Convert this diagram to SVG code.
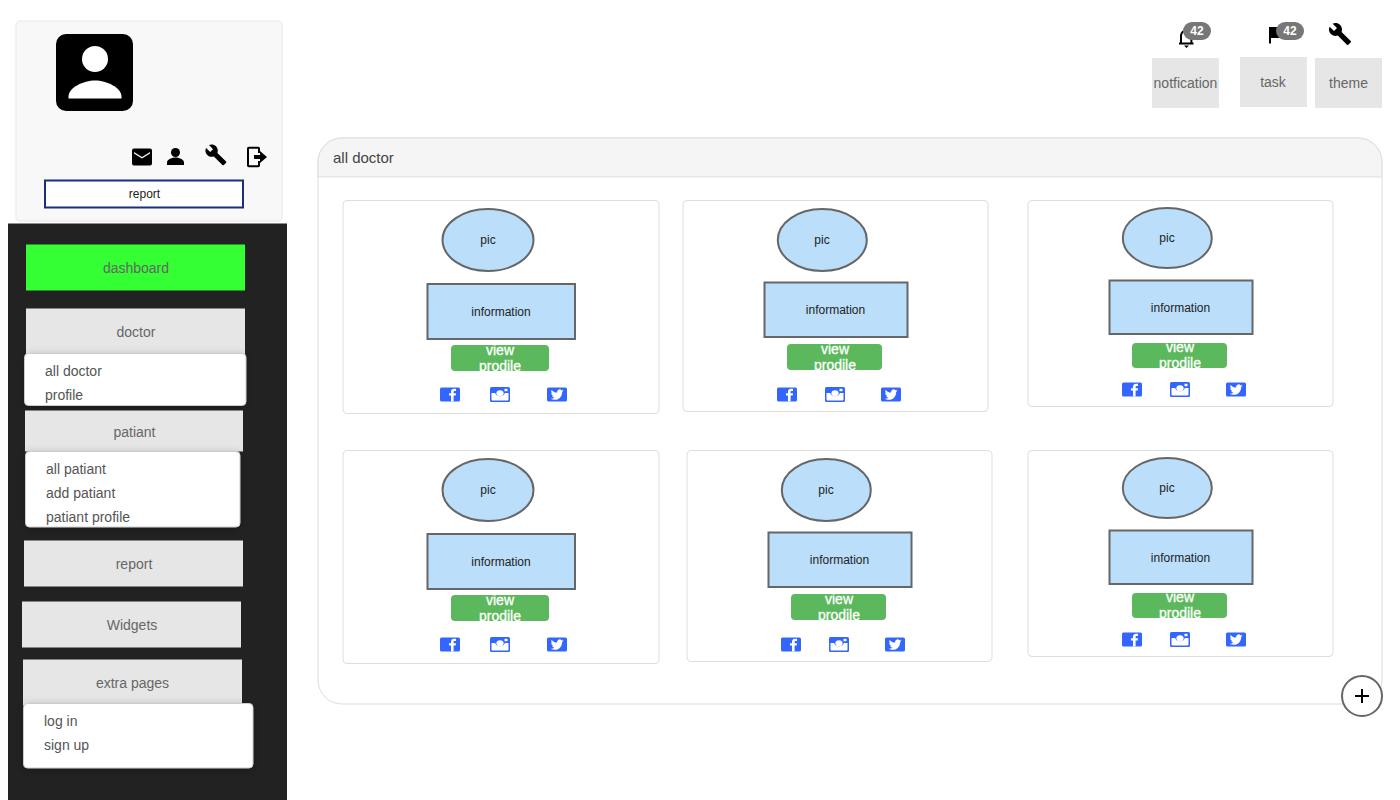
<svg xmlns="http://www.w3.org/2000/svg" width="1400" height="800" viewBox="0 0 1400 800">
<style>
text{font-family:"Liberation Sans",Arial,sans-serif}
.m{fill:#e6e6e6}
.mt{font-size:14px;fill:#666;text-anchor:middle}
.dd{fill:#fff;stroke:#ccc;stroke-width:1;filter:url(#sh)}
.dt{font-size:14px;fill:#555}
.card{fill:#fff;stroke:#ddd;stroke-width:1}
.blue{fill:#bbdefb;stroke:#666;stroke-width:2}
.lbl{font-size:12px;fill:#222;text-anchor:middle}
.btn{fill:#5cb85c}
.bt{font-size:14px;fill:#fff;stroke:#fff;stroke-width:.3;text-anchor:middle}
.pill{fill:#777}
.pt{font-size:12px;font-weight:bold;fill:#fff;text-anchor:middle}
</style>
<defs>
<filter id="sh" x="-10%" y="-20%" width="120%" height="150%"><feDropShadow dx="0" dy="2" stdDeviation="4" flood-color="#000" flood-opacity=".25"/></filter>
<path id="wrench" d="M22.7 19l-9.1-9.1c.9-2.3.4-5-1.5-6.9-2-2-5-2.4-7.4-1.3L9 6 6 9 1.6 4.7C.4 7.1.9 10.1 2.9 12.1c1.9 1.9 4.6 2.4 6.9 1.5l9.1 9.1c.4.4 1 .4 1.4 0l2.3-2.3c.5-.4.5-1.1.1-1.4z"/>
<g id="fb"><rect width="20" height="14" y=".5" rx="1.5" fill="#3366ff"/><path d="M11 14.500V8.600H9V6.300h2V4.800c0-2 1.200-3 3-3h2v2.300h-1.200c-1 0-1.200.4-1.200 1.100v1.100h2.400l-.3 2.300h-2.100v5.900z" fill="#fff"/></g>
<g id="ig"><rect width="20" height="15" rx="1.5" fill="#3366ff"/><path d="M1.500 6h3.600a5.300 5.300 0 0 0 9.800 0h3.600v6.500a1 1 0 0 1-1 1H2.500a1 1 0 0 1-1-1z" fill="#fff"/><ellipse cx="10" cy="6.300" rx="3.600" ry="3" fill="#fff"/><rect x="14.500" y="1.800" width="3" height="2.400" fill="#fff"/></g>
<g id="tw"><rect width="20" height="14" y=".5" rx="1.5" fill="#3366ff"/><path d="M16.500 3.600c-.5.2-1 .4-1.500.4.500-.3 1-.8 1.200-1.400-.5.3-1.100.5-1.700.6a2.600 2.600 0 0 0-4.400 2.400C8 5.500 6 4.400 4.600 2.900c-.7 1.200-.3 2.700.8 3.500-.4 0-.8-.1-1.200-.3 0 1.300.9 2.300 2.100 2.600-.4.1-.8.1-1.200 0 .3 1 1.300 1.800 2.400 1.800A5.300 5.300 0 0 1 3.500 11.700c4.800 2.700 11.500.4 11.700-6.800.5-.4.900-.8 1.300-1.300z" fill="#fff"/></g>
<clipPath id="c1"><rect x="451" y="345" width="98" height="26" rx="4"/></clipPath>
<clipPath id="c2"><rect x="787" y="344" width="95" height="26" rx="4"/></clipPath>
<clipPath id="c3"><rect x="1132" y="343" width="95" height="25" rx="4"/></clipPath>
<clipPath id="c4"><rect x="451" y="595" width="98" height="26" rx="4"/></clipPath>
<clipPath id="c5"><rect x="791" y="594" width="95" height="26" rx="4"/></clipPath>
<clipPath id="c6"><rect x="1132" y="593" width="95" height="25" rx="4"/></clipPath>
</defs>

<g id="connectors"/>

<g id="sidebar"><rect x="8" y="223.500" width="279" height="576.500" fill="#222"/></g>

<g id="profile">
<rect x="16" y="21" width="266" height="200" rx="4" fill="#f8f8f8" stroke="#eee" stroke-width="1.500"/>
<rect x="56" y="34" width="77" height="77" rx="10" fill="#000"/>
<circle cx="95" cy="59" r="13" fill="#fff"/>
<path d="M68.500 98.500v-2c0-9 15-16 26.500-16s26.500 7 26.500 16v2z" fill="#fff"/>
<path d="M132 150.500a2 2 0 0 1 2-2h16a2 2 0 0 1 2 2v13a2 2 0 0 1-2 2h-16a2 2 0 0 1-2-2zm2 1.500v1.500l8 5 8-5V152l-8 5z" fill="#000" fill-rule="evenodd"/>
<circle cx="175.500" cy="152.500" r="4.500" fill="#000"/>
<path d="M167 165v-2.500c0-3.500 5.500-5 8.500-5s8.500 1.500 8.500 5v2.500z" fill="#000"/>
<use href="#wrench" transform="translate(204.500 143.500) scale(.95)"/>
<path d="M259 153v-4.500a.8.800 0 0 0-.8-.8h-9.400a.8.800 0 0 0-.8.800v17a.8.800 0 0 0 .8.800h9.400a.8.800 0 0 0 .8-.8V161" fill="none" stroke="#000" stroke-width="2"/>
<path d="M254 155h6v-4l7 6-7 6v-4h-6z" fill="#000"/>
<rect x="45" y="180.500" width="198" height="27" fill="#fff" stroke="#1b2f7a" stroke-width="2"/>
<text x="144.500" y="198" font-size="12" text-anchor="middle" fill="#222">report</text>
</g>

<g id="menu-dashboard"><rect x="26" y="244.500" width="219" height="46" fill="#33ff33"/><text class="mt" x="136" y="273">dashboard</text></g>
<g id="menu-doctor"><rect class="m" x="26" y="308.500" width="219" height="46"/><text class="mt" x="136" y="337">doctor</text></g>
<g id="drop-doctor"><rect class="dd" x="24.500" y="353.500" width="221.500" height="52" rx="4"/><text class="dt" x="45" y="376">all doctor</text><text class="dt" x="45" y="400">profile</text></g>
<g id="menu-patiant"><rect class="m" x="25" y="410.500" width="218" height="41"/><text class="mt" x="134.500" y="437">patiant</text></g>
<g id="drop-patiant"><rect class="dd" x="25.500" y="451.500" width="214.500" height="75.500" rx="4"/><text class="dt" x="46" y="474">all patiant</text><text class="dt" x="46" y="498">add patiant</text><text class="dt" x="46" y="522">patiant profile</text></g>
<g id="menu-report"><rect class="m" x="24" y="540.500" width="219" height="46"/><text class="mt" x="134" y="569">report</text></g>
<g id="menu-widgets"><rect class="m" x="22" y="601.500" width="219" height="46"/><text class="mt" x="132" y="630">Widgets</text></g>
<g id="menu-extra"><rect class="m" x="23" y="659.500" width="219" height="46"/><text class="mt" x="132.500" y="688">extra pages</text></g>
<g id="drop-extra"><rect class="dd" x="23.500" y="703.500" width="229.500" height="64.500" rx="4"/><text class="dt" x="44" y="726">log in</text><text class="dt" x="44" y="750">sign up</text></g>

<g id="top-notification">
<path d="M1179 43.500h14.500M1181 43v-6.500c0-3.500 2-6 5.200-6s5.200 2.500 5.200 6V43" fill="none" stroke="#000" stroke-width="2"/>
<path d="M1184 45.500h5l-2.500 2.500z" fill="#000"/>
<rect class="pill" x="1183" y="22" width="28" height="18" rx="9"/><text class="pt" x="1197" y="35">42</text>
<rect class="m" x="1152" y="58" width="67" height="50"/><text class="mt" x="1185.500" y="88">notfication</text>
</g>
<g id="top-task">
<path d="M1269 27h2v16.500h-2zM1271 27h9v11h-9z" fill="#000"/>
<rect class="pill" x="1276" y="22" width="28" height="18" rx="9"/><text class="pt" x="1290" y="35">42</text>
<rect class="m" x="1240" y="57" width="67" height="50"/><text class="mt" x="1273" y="87">task</text>
</g>
<g id="top-theme">
<use href="#wrench" transform="translate(1328 22)"/>
<rect class="m" x="1315" y="58" width="67" height="50"/><text class="mt" x="1348.500" y="88">theme</text>
</g>

<g id="panel">
<rect x="318" y="138" width="1064" height="566" rx="24" fill="#fff" stroke="#ddd"/>
<path d="M318 177V162a24 24 0 0 1 24-24h1016a24 24 0 0 1 24 24V177z" fill="#f5f5f5" stroke="#ddd"/>
<text x="333" y="163" font-size="15" fill="#444">all doctor</text>
</g>

<g id="card-1">
<rect class="card" x="343" y="200.500" width="316" height="213" rx="4"/>
<ellipse class="blue" cx="488" cy="240" rx="45.500" ry="31"/><text class="lbl" x="488" y="244">pic</text>
<rect class="blue" x="427.500" y="284" width="147.500" height="55"/><text class="lbl" x="501" y="316">information</text>
<rect class="btn" x="451" y="345" width="98" height="26" rx="4"/>
<g clip-path="url(#c1)"><text class="bt" x="500" y="355">view</text><text class="bt" x="500" y="371">prodile</text></g>
<use href="#fb" x="440" y="387"/><use href="#ig" x="490" y="387"/><use href="#tw" x="547" y="387"/>
</g>
<g id="card-2">
<rect class="card" x="683" y="200.500" width="305" height="211" rx="4"/>
<ellipse class="blue" cx="822.300" cy="240" rx="44.500" ry="31"/><text class="lbl" x="822" y="244">pic</text>
<rect class="blue" x="764.500" y="282.500" width="143" height="54.500"/><text class="lbl" x="835.500" y="314">information</text>
<rect class="btn" x="787" y="344" width="95" height="26" rx="4"/>
<g clip-path="url(#c2)"><text class="bt" x="835" y="354">view</text><text class="bt" x="835" y="370">prodile</text></g>
<use href="#fb" x="777" y="387"/><use href="#ig" x="825" y="387"/><use href="#tw" x="881" y="387"/>
</g>
<g id="card-3">
<rect class="card" x="1028" y="200.500" width="305" height="206" rx="4"/>
<ellipse class="blue" cx="1167.300" cy="238" rx="44.500" ry="30"/><text class="lbl" x="1167" y="242">pic</text>
<rect class="blue" x="1109.500" y="280.500" width="143" height="53.500"/><text class="lbl" x="1180.500" y="312">information</text>
<rect class="btn" x="1132" y="343" width="95" height="25" rx="4"/>
<g clip-path="url(#c3)"><text class="bt" x="1180" y="352">view</text><text class="bt" x="1180" y="368">prodile</text></g>
<use href="#fb" x="1122" y="382"/><use href="#ig" x="1170" y="382"/><use href="#tw" x="1226" y="382"/>
</g>
<g id="card-4">
<rect class="card" x="343" y="450.500" width="316" height="213" rx="4"/>
<ellipse class="blue" cx="488" cy="490" rx="45.500" ry="31"/><text class="lbl" x="488" y="494">pic</text>
<rect class="blue" x="427.500" y="534" width="147.500" height="55"/><text class="lbl" x="501" y="566">information</text>
<rect class="btn" x="451" y="595" width="98" height="26" rx="4"/>
<g clip-path="url(#c4)"><text class="bt" x="500" y="605">view</text><text class="bt" x="500" y="621">prodile</text></g>
<use href="#fb" x="440" y="637"/><use href="#ig" x="490" y="637"/><use href="#tw" x="547" y="637"/>
</g>
<g id="card-5">
<rect class="card" x="687" y="450.500" width="305" height="211" rx="4"/>
<ellipse class="blue" cx="826.300" cy="490" rx="44.500" ry="31"/><text class="lbl" x="826" y="494">pic</text>
<rect class="blue" x="768.500" y="532.500" width="143" height="54.500"/><text class="lbl" x="839.500" y="564">information</text>
<rect class="btn" x="791" y="594" width="95" height="26" rx="4"/>
<g clip-path="url(#c5)"><text class="bt" x="839" y="604">view</text><text class="bt" x="839" y="620">prodile</text></g>
<use href="#fb" x="781" y="637"/><use href="#ig" x="829" y="637"/><use href="#tw" x="885" y="637"/>
</g>
<g id="card-6">
<rect class="card" x="1028" y="450.500" width="305" height="206" rx="4"/>
<ellipse class="blue" cx="1167.300" cy="488" rx="44.500" ry="30"/><text class="lbl" x="1167" y="492">pic</text>
<rect class="blue" x="1109.500" y="530.500" width="143" height="53.500"/><text class="lbl" x="1180.500" y="562">information</text>
<rect class="btn" x="1132" y="593" width="95" height="25" rx="4"/>
<g clip-path="url(#c6)"><text class="bt" x="1180" y="602">view</text><text class="bt" x="1180" y="618">prodile</text></g>
<use href="#fb" x="1122" y="632"/><use href="#ig" x="1170" y="632"/><use href="#tw" x="1226" y="632"/>
</g>

<g id="add">
<circle cx="1362" cy="696" r="20" fill="#fff" stroke="#666" stroke-width="2"/>
<path d="M1362 689v14M1355 696h14" stroke="#000" stroke-width="2" fill="none"/>
</g>
</svg>
